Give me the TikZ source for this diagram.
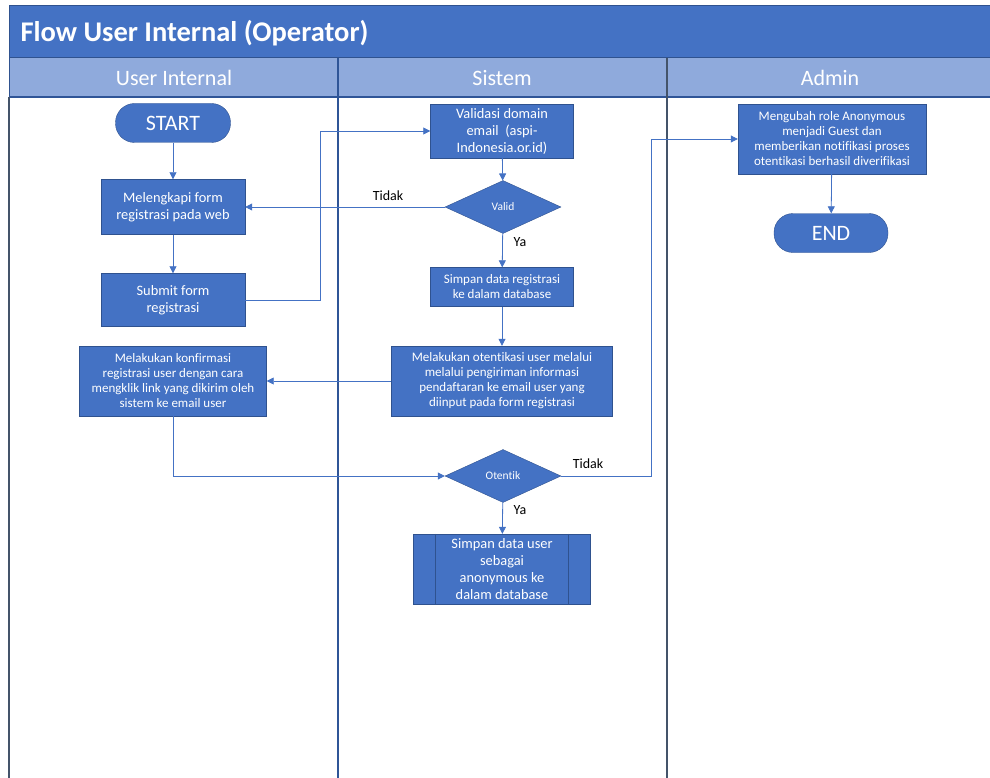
\documentclass[tikz,border=0pt]{standalone}
\usepackage{fontspec}
\setmainfont{Carlito}[Ligatures=NoCommon]
\usetikzlibrary{shapes.geometric,arrows.meta}
\definecolor{boxblue}{HTML}{4472C4}
\definecolor{boxline}{HTML}{2F528F}
\definecolor{headblue}{HTML}{8FAADC}
\definecolor{lanedark}{HTML}{2F5597}
\definecolor{lanegray}{HTML}{44546A}

\begin{document}
\begin{tikzpicture}[x=1pt, y=-1pt,
  proc/.style={draw=boxline, fill=boxblue, text=white, align=center, inner sep=1pt,
    font=\fontsize{13}{15}\selectfont},
  bigproc/.style={proc, font=\fontsize{14.4}{17}\selectfont},
  terminal/.style={draw=boxline, fill=boxblue, text=white, rounded corners=19pt,
    minimum width=115pt, minimum height=39pt, font=\fontsize{22}{24}\selectfont},
  decision/.style={draw=boxline, fill=boxblue, text=white, diamond, inner sep=0pt,
    minimum width=116pt, minimum height=53pt, font=\fontsize{11.5}{13}\selectfont},
  flow/.style={boxblue, line width=0.8pt, -{Triangle[length=7pt,width=7pt]}},
  lanehead/.style={text=white, font=\fontsize{22}{24}\selectfont},
  answer/.style={font=\fontsize{14}{16}\selectfont}]
  \useasboundingbox (0,0) rectangle (990,778);
  % Swimlane frame
  \fill[boxblue] (9,6) rectangle (992,58);
  \fill[headblue] (9,58) rectangle (992,97);
  \draw[boxline, line width=1pt] (992,6) -- (9,6) -- (9,780);
  \draw[boxline, line width=1pt] (9,58) -- (992,58);
  \draw[lanedark, line width=1.3pt] (9,97) -- (992,97);
  \draw[lanedark, line width=2pt] (338,58) -- (338,780);
  \draw[lanegray, line width=1.3pt] (667,58) -- (667,780);
  \draw[lanegray, line width=1.3pt] (9,97) -- (9,780);
  \node[anchor=west, text=white, font=\fontsize{28.5}{30}\selectfont\bfseries] (title) at (17,33) {Flow User Internal (Operator)};
  \node[lanehead] (laneuser) at (174,78) {User Internal};
  \node[lanehead] (lanesistem) at (502,78) {Sistem};
  \node[lanehead] (laneadmin) at (830,78) {Admin};
  % User Internal
  \node[terminal] (start) at (173,123) {START};
  \node[bigproc, minimum width=144pt, minimum height=55pt] (lengkapi) at (173,207) {Melengkapi form\\registrasi pada web};
  \node[bigproc, minimum width=144pt, minimum height=53pt] (submit) at (173,300) {Submit form\\registrasi};
  \node[proc, minimum width=187pt, minimum height=70pt] (konfirmasi) at (173,381) {Melakukan konfirmasi\\registrasi user dengan cara\\mengklik link yang dikirim oleh\\sistem ke email user};
  % Sistem
  \node[bigproc, minimum width=143pt, minimum height=54pt] (validasi) at (502,131) {Validasi domain\\email~ (aspi-\\Indonesia.or.id)};
  \node[decision] (valid) at (503,207) {Valid};
  \node[proc, minimum width=143pt, minimum height=39pt] (simpanreg) at (502,287) {Simpan data registrasi\\ke dalam database};
  \node[proc, minimum width=221pt, minimum height=70pt] (otentikasi) at (502,381) {Melakukan otentikasi user melalui\\melalui pengiriman informasi\\pendaftaran ke email user yang\\diinput pada form registrasi};
  \node[decision] (otentik) at (503,476) {Otentik};
  \node[bigproc, minimum width=177pt, minimum height=70pt] (simpanuser) at (502,569) {Simpan data user\\sebagai\\anonymous ke\\dalam database};
  \draw[boxline, line width=0.8pt] ([xshift=22pt]simpanuser.north west) -- ([xshift=22pt]simpanuser.south west);
  \draw[boxline, line width=0.8pt] ([xshift=-22pt]simpanuser.north east) -- ([xshift=-22pt]simpanuser.south east);
  % Admin
  \node[proc, minimum width=188pt, minimum height=70pt] (ubahrole) at (832,139) {Mengubah role Anonymous\\menjadi Guest dan\\memberikan notifikasi proses\\otentikasi berhasil diverifikasi};
  \node[terminal, minimum width=114pt] (finish) at (831,233) {END};
  % Connectors
  \draw[flow] (start) -- (lengkapi);
  \draw[flow] (lengkapi) -- (submit);
  \draw[flow] (submit.east) -- ++(75,0) |- (validasi.west);
  \draw[flow] (validasi) -- (valid);
  \draw[flow] (valid.west) -- (lengkapi.east);
  \draw[flow] (valid) -- (simpanreg);
  \draw[flow] (simpanreg) -- (otentikasi);
  \draw[flow] (otentikasi.west) -- (konfirmasi.east);
  \draw[flow] (konfirmasi.south) |- (otentik.west);
  \draw[flow] (otentik.east) -- ++(90,0) |- (ubahrole.west);
  \draw[flow] (otentik) -- (simpanuser);
  \draw[flow] (ubahrole) -- (finish);
  \node[answer] (tidakvalid) at (388,196) {Tidak};
  \node[answer] (yavalid) at (520,242) {Ya};
  \node[answer] (tidakotentik) at (588,464) {Tidak};
  \node[answer] (yaotentik) at (520,510) {Ya};
\end{tikzpicture}
\end{document}
